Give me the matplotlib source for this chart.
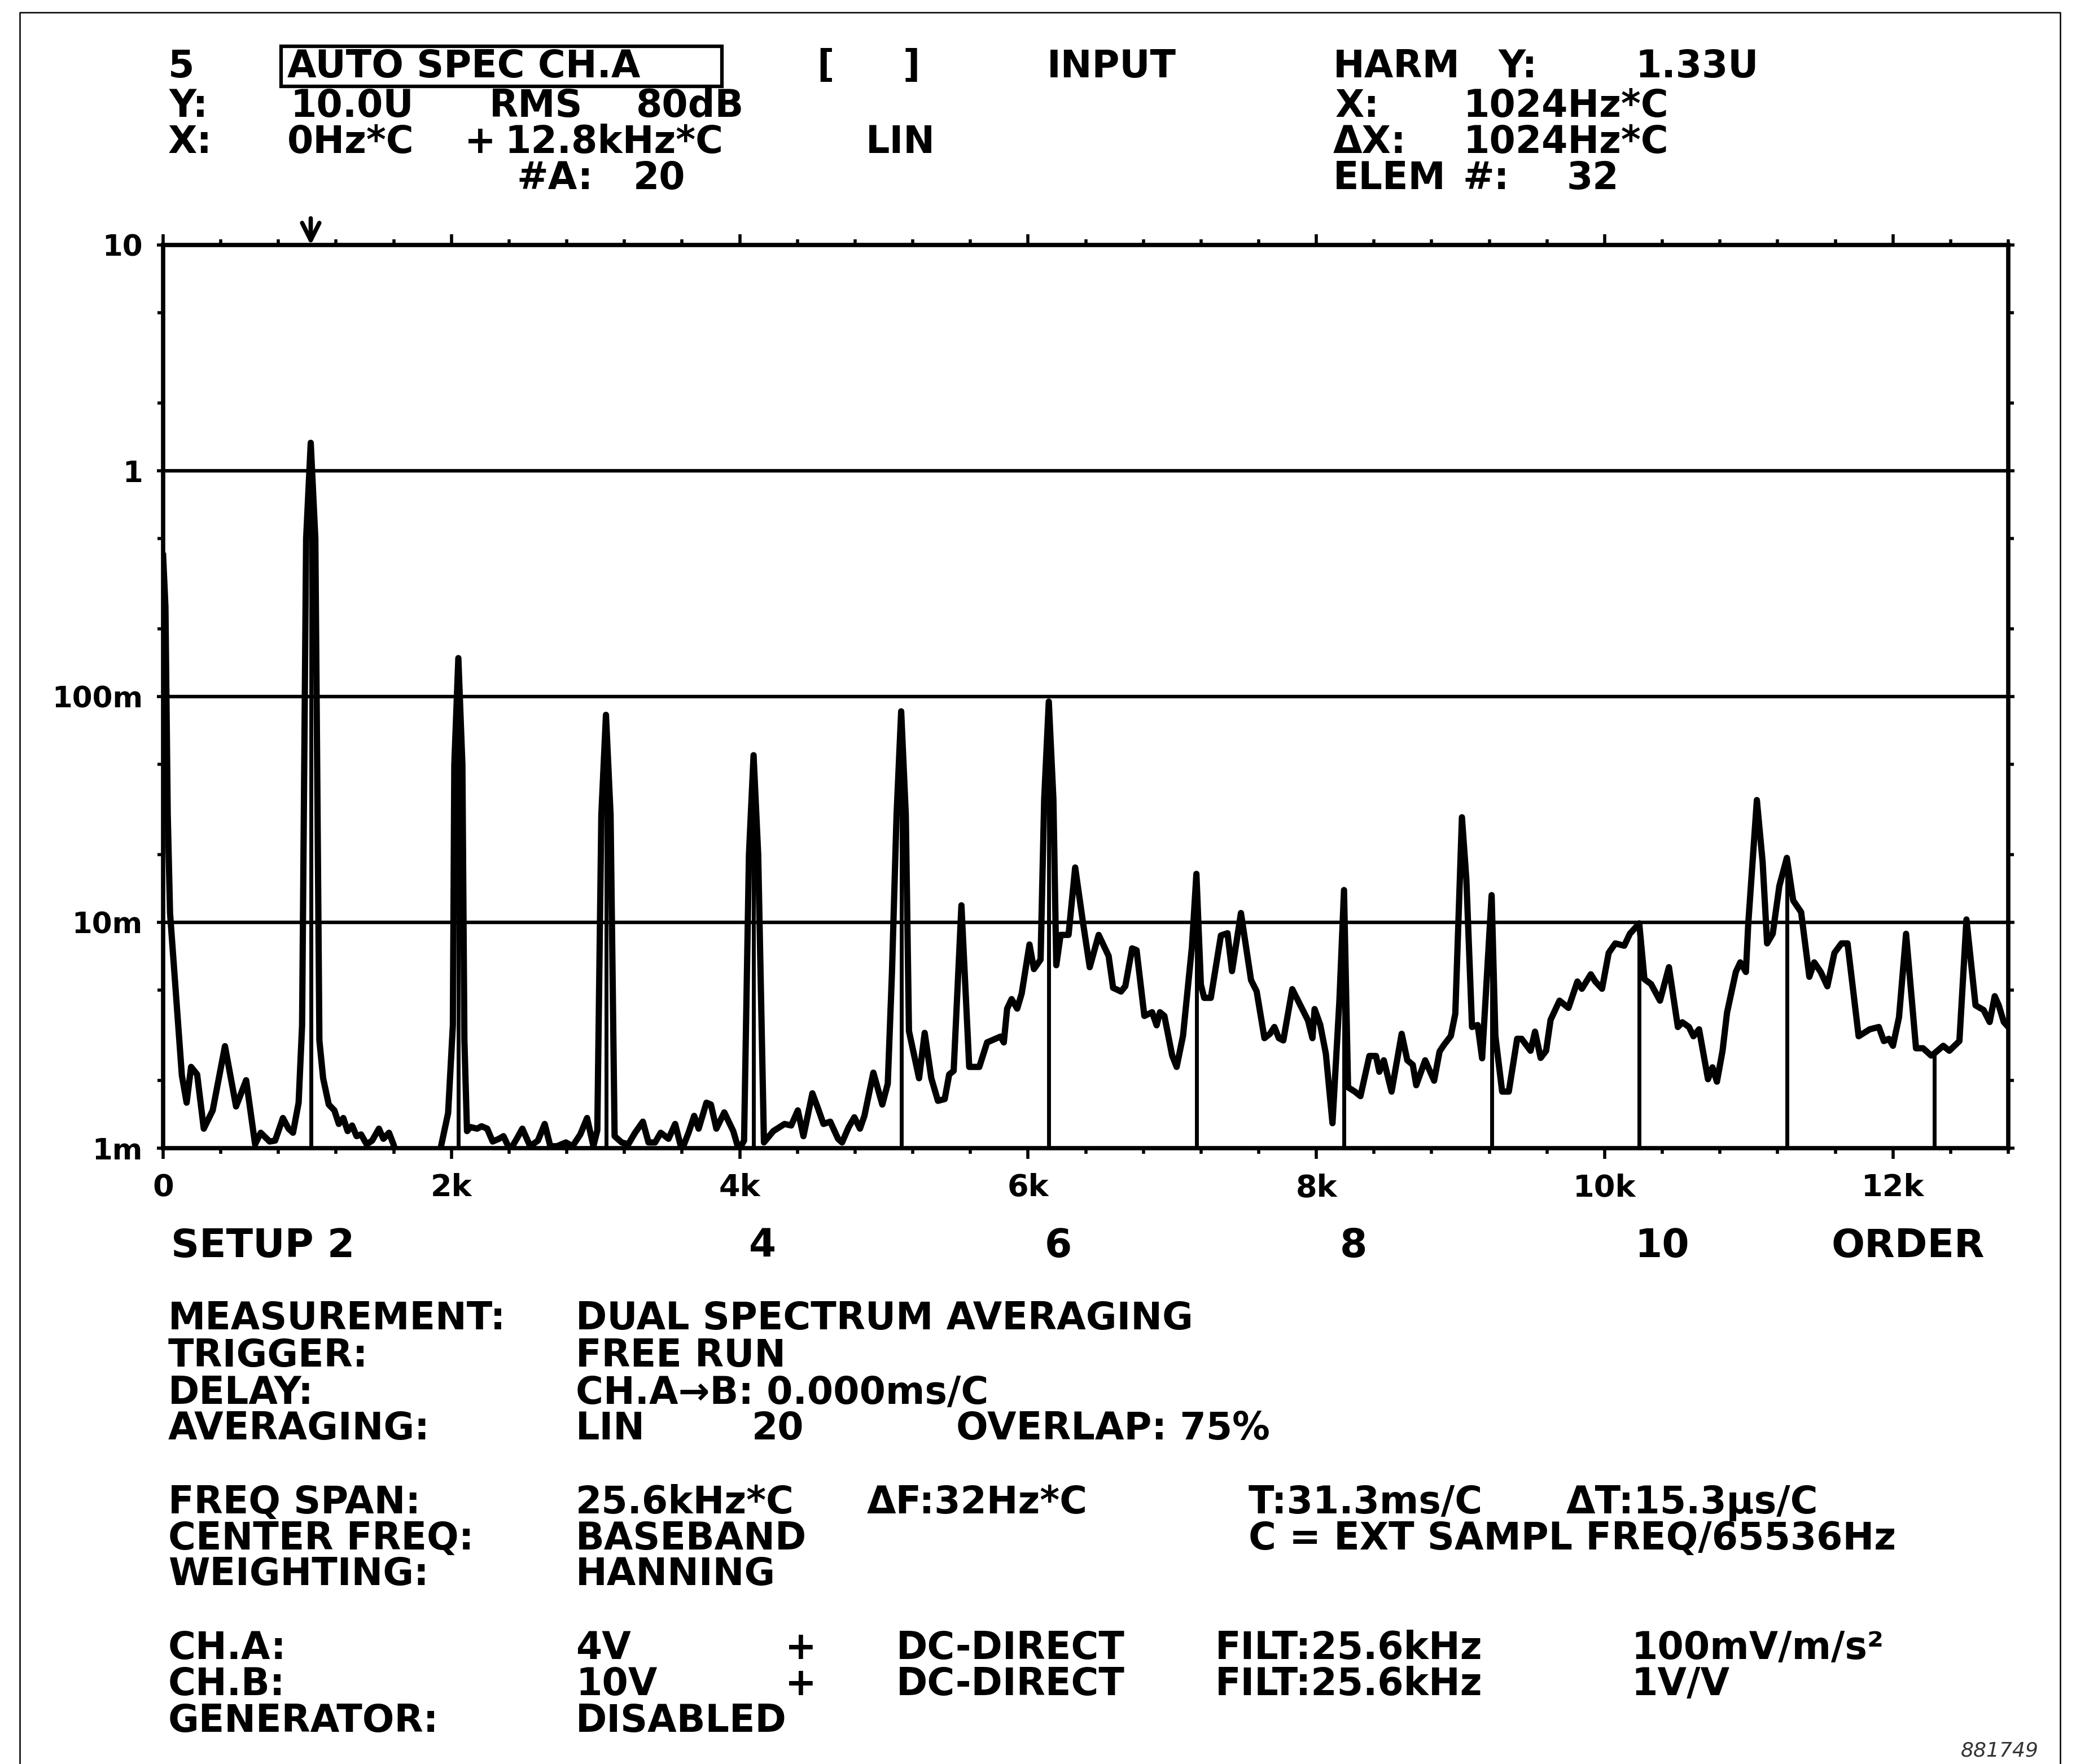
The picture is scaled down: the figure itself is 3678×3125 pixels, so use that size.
import matplotlib
matplotlib.use('Agg')
import matplotlib.pyplot as plt
import matplotlib.transforms as mtransforms
from matplotlib.ticker import FixedLocator, LogLocator, MultipleLocator, NullFormatter
from matplotlib.patches import Rectangle
from matplotlib.lines import Line2D

plt.rcParams['font.family'] = ['DejaVu Sans']
plt.rcParams['font.weight'] = 'bold'

W, H = 3678, 3125

# auto spectrum: frequency (Hz) / level (V rms)
freq_hz = [0, 16, 32, 48, 130, 163, 194, 236, 282, 344, 429, 506, 576, 638, 677, 739, 777, 831, 870, 901,
           940, 964, 992, 1024, 1056, 1084, 1110, 1149, 1188, 1219, 1250, 1280, 1311, 1342, 1373, 1412, 1450,
           1497, 1528, 1567, 1598, 1625, 1910, 1977, 2010, 2020, 2048, 2076, 2090, 2108, 2132, 2178, 2209,
           2248, 2286, 2330, 2361, 2407, 2453, 2492, 2546, 2600, 2647, 2686, 2732, 2794, 2840, 2894, 2941,
           2985, 3012, 3040, 3072, 3104, 3132, 3181, 3227, 3274, 3328, 3367, 3413, 3452, 3506, 3552, 3598,
           3645, 3684, 3715, 3769, 3800, 3838, 3893, 3955, 3994, 4030, 4064, 4096, 4128, 4168, 4233, 4311,
           4357, 4403, 4442, 4504, 4543, 4581, 4628, 4682, 4710, 4756, 4795, 4834, 4865, 4927, 4989, 5027,
           5056, 5088, 5120, 5152, 5174, 5244, 5283, 5329, 5375, 5422, 5453, 5484, 5538, 5592, 5662, 5716,
           5809, 5832, 5855, 5886, 5925, 5956, 6010, 6041, 6087, 6112, 6144, 6176, 6196, 6226, 6281, 6327,
           6381, 6428, 6490, 6559, 6590, 6645, 6675, 6722, 6753, 6807, 6861, 6892, 6915, 6946, 7000, 7031,
           7075, 7106, 7137, 7168, 7199, 7222, 7268, 7338, 7384, 7415, 7477, 7547, 7586, 7640, 7678, 7709,
           7740, 7771, 7833, 7880, 7942, 7973, 7988, 8027, 8066, 8112, 8160, 8192, 8220, 8267, 8306, 8368,
           8414, 8437, 8468, 8522, 8592, 8631, 8669, 8693, 8755, 8817, 8855, 8886, 8933, 8964, 9010, 9041,
           9080, 9119, 9150, 9216, 9242, 9289, 9335, 9393, 9424, 9486, 9517, 9556, 9594, 9625, 9687, 9749,
           9811, 9842, 9904, 9935, 9982, 10028, 10074, 10136, 10175, 10240, 10276, 10322, 10384, 10446,
           10508, 10539, 10585, 10616, 10655, 10717, 10748, 10779, 10818, 10849, 10910, 10941, 10980, 10996,
           11056, 11096, 11127, 11166, 11212, 11264, 11308, 11363, 11420, 11454, 11499, 11545, 11594, 11643,
           11685, 11762, 11839, 11902, 11937, 11972, 12000, 12042, 12091, 12160, 12209, 12265, 12288, 12349,
           12391, 12461, 12510, 12573, 12629, 12671, 12706, 12734, 12769, 12800]
level_v = [0.42, 0.25, 0.03, 0.011, 0.0021, 0.00159, 0.00229, 0.00212, 0.00122, 0.00147, 0.00283, 0.00153,
           0.0020, 0.00104, 0.00117, 0.00107, 0.00108, 0.00136, 0.00122, 0.00117,
           0.00159, 0.0035, 0.5, 1.33, 0.5, 0.003, 0.00204, 0.00156, 0.00147, 0.00128, 0.00136, 0.00119,
           0.00126, 0.00113, 0.00115, 0.00104, 0.00108,
           0.00122, 0.0011, 0.00117, 0.00104, 0.0009, 0.0009, 0.00143, 0.0035, 0.05, 0.148, 0.05, 0.003,
           0.00119, 0.00124, 0.00122, 0.00125,
           0.00122, 0.00107, 0.0011, 0.00113, 0.00098, 0.0011, 0.00122, 0.00102, 0.00108, 0.00128, 0.00102,
           0.00102, 0.00106, 0.00102, 0.00115, 0.00136,
           0.00102, 0.0012, 0.03, 0.083, 0.03, 0.00113, 0.00106, 0.00104, 0.00117, 0.00131, 0.00106, 0.00106,
           0.00117, 0.0011, 0.00128, 0.00098,
           0.00117, 0.00139, 0.00122, 0.00159, 0.00156, 0.00122, 0.00144, 0.00119, 0.00098, 0.00108, 0.02,
           0.055, 0.02, 0.00106, 0.00119, 0.00128,
           0.00126, 0.00147, 0.00113, 0.00175, 0.0015, 0.00128, 0.00131, 0.0011, 0.00106, 0.00124, 0.00137,
           0.00122, 0.00139, 0.00216, 0.00156, 0.00193,
           0.006, 0.03, 0.086, 0.03, 0.0033, 0.00204, 0.00324, 0.00204, 0.00162, 0.00165, 0.00212, 0.0022,
           0.0119, 0.00229, 0.00229, 0.00294,
           0.00312, 0.00294, 0.00415, 0.00457, 0.00415, 0.00484, 0.00798, 0.00621, 0.00684, 0.035, 0.095,
           0.035, 0.00646, 0.0088, 0.0088, 0.0175,
           0.01, 0.00633, 0.0088, 0.0071, 0.00513, 0.00494, 0.00522, 0.00767, 0.00753, 0.00385, 0.004, 0.0035,
           0.004, 0.00385, 0.00257, 0.00229,
           0.00314, 0.00495, 0.0078, 0.0164, 0.0053, 0.00463, 0.00463, 0.00875, 0.00895, 0.00608, 0.011,
           0.00555, 0.00495, 0.00307, 0.00321, 0.00344,
           0.00307, 0.003, 0.00506, 0.00441, 0.00368, 0.00307, 0.00413, 0.00352, 0.00262, 0.00129, 0.0045,
           0.0139, 0.00186, 0.00178, 0.0017, 0.00256,
           0.00256, 0.00218, 0.00245, 0.00178, 0.00321, 0.00245, 0.00234, 0.0019, 0.00245, 0.00199, 0.00268,
           0.00287, 0.00314, 0.00394, 0.0292, 0.0154,
           0.00344, 0.00351, 0.0025, 0.0132, 0.00314, 0.00178, 0.00178, 0.00305, 0.00305, 0.0027, 0.00328,
           0.00251, 0.0027, 0.0037, 0.0045, 0.00418,
           0.00547, 0.00508, 0.00589, 0.00547, 0.00508, 0.00732, 0.00807, 0.00788, 0.0089, 0.0099, 0.0056,
           0.00533, 0.0045, 0.00633,
           0.00344, 0.00361, 0.00344, 0.00313, 0.00336, 0.00202, 0.00228, 0.00197, 0.0027, 0.00398, 0.00603,
           0.00665, 0.00603, 0.0098,
           0.0348, 0.0185, 0.00807, 0.0089, 0.0145, 0.0193, 0.0125, 0.0111, 0.00574, 0.00665, 0.00603, 0.00521,
           0.00732, 0.00807,
           0.00807, 0.00313, 0.00336, 0.00344, 0.00298, 0.00305, 0.00284, 0.0038, 0.0089, 0.00277, 0.00277,
           0.00257, 0.00263, 0.00284,
           0.0027, 0.00298, 0.0103, 0.00429, 0.00409, 0.00362, 0.00471, 0.00429, 0.00362, 0.00344]

# harmonic cursor: order n sits at n * 1024 Hz
fund_hz = 1024
harm_order = [1, 2, 3, 4, 5, 6, 7, 8, 9, 10, 11, 12]
harm_level = [1.33, 0.148, 0.083, 0.055, 0.086, 0.095, 0.0164, 0.0139, 0.0132, 0.0099, 0.0193, 0.00263]

x_ticks = [0, 2000, 4000, 6000, 8000, 10000, 12000]
x_labels = ['0', '2k', '4k', '6k', '8k', '10k', '12k']
y_ticks = [1e-3, 1e-2, 1e-1, 1, 10]
y_labels = ['1m', '10m', '100m', '1', '10']
grid_levels = [1e-2, 1e-1, 1]
order_marks = [4, 6, 8, 10]

fig = plt.figure(figsize=(W / 100, H / 100), dpi=100)
ax = fig.add_axes([289 / W, 1 - 2034 / H, (3558 - 289) / W, (2034 - 434) / H])
ax.set_yscale('log')
ax.set_xlim(0, 12800)
ax.set_ylim(1e-3, 10)

for lev in grid_levels:
    ax.axhline(lev, color='k', lw=4.5, zorder=1)

ax.plot(freq_hz, level_v, color='k', lw=8, zorder=3)
ax.vlines([n * fund_hz for n in harm_order], 1e-3, harm_level, colors='k', lw=5, zorder=3)

# cursor arrow on fundamental
ax.annotate('', xy=(fund_hz, 10), xytext=(0, 34), textcoords='offset points',
            arrowprops=dict(arrowstyle='->', lw=5.5, color='k', mutation_scale=55, shrinkA=0, shrinkB=0),
            annotation_clip=False)

for sp in ax.spines.values():
    sp.set_linewidth(5.5)

ax.xaxis.set_major_locator(FixedLocator(x_ticks))
ax.set_xticklabels(x_labels)
ax.xaxis.set_minor_locator(MultipleLocator(400))
ax.yaxis.set_major_locator(FixedLocator(y_ticks))
ax.set_yticklabels(y_labels)
ax.yaxis.set_minor_locator(LogLocator(base=10, subs=(2.0, 5.0)))
ax.yaxis.set_minor_formatter(NullFormatter())

ax.tick_params(axis='both', which='both', direction='out', top=True, right=True, color='k')
ax.tick_params(axis='x', which='major', length=14, width=4, pad=18, labelsize=39)
ax.tick_params(axis='x', which='minor', length=7, width=4)
ax.tick_params(axis='y', which='major', length=8, width=4, pad=18, labelsize=37)
ax.tick_params(axis='y', which='minor', length=7, width=4)


def put(x, y, s, size=48, **kw):
    # x, y in pixels of the page, y from the top
    fig.text(x / W, 1 - y / H, s, fontsize=size, ha='left', va='center', **kw)


# header
put(298, 118, '5')
put(509, 118, 'AUTO SPEC CH.A')
fig.add_artist(Rectangle((498 / W, 1 - 153 / H), (1279 - 498) / W, (153 - 82) / H,
                         transform=fig.transFigure, fill=False, lw=4.5, ec='k'))
put(1447, 118, '[')
put(1599, 118, ']')
put(1855, 118, 'INPUT')
put(2362, 118, 'HARM')
put(2655, 118, 'Y:')
put(2897, 118, '1.33U')

put(300, 188, 'Y:')
put(514, 188, '10.0U')
put(867, 188, 'RMS')
put(1127, 188, '80dB')
put(2366, 188, 'X:')
put(2592, 188, '1024Hz*C')

put(298, 252, 'X:')
put(509, 252, '0Hz*C')
put(823, 252, '+')
put(894, 252, '12.8kHz*C')
put(1534, 252, 'LIN')
put(2362, 252, 'ΔX:')
put(2592, 252, '1024Hz*C')

put(916, 316, '#A:')
put(1122, 316, '20')
put(2362, 316, 'ELEM')
put(2592, 316, '#:')
put(2776, 316, '32')

# order scale under the frequency axis
put(303, 2207, 'SETUP 2', size=50)
blend = mtransforms.blended_transform_factory(ax.transData, fig.transFigure)
for n in order_marks:
    fig.text(n * fund_hz - 30, 1 - 2207 / H, str(n), transform=blend, fontsize=50,
             ha='left', va='center')
put(3245, 2207, 'ORDER', size=50)

# setup listing
rows = [
    (2336, [(298, 'MEASUREMENT:'), (1020, 'DUAL SPECTRUM AVERAGING')]),
    (2402, [(298, 'TRIGGER:'), (1020, 'FREE RUN')]),
    (2468, [(298, 'DELAY:'), (1020, 'CH.A→B: 0.000ms/C')]),
    (2531, [(298, 'AVERAGING:'), (1020, 'LIN'), (1332, '20'), (1694, 'OVERLAP: 75%')]),
    (2662, [(298, 'FREQ SPAN:'), (1020, '25.6kHz*C'), (1536, 'ΔF:32Hz*C'), (2212, 'T:31.3ms/C'),
            (2775, 'ΔT:15.3μs/C')]),
    (2726, [(298, 'CENTER FREQ:'), (1020, 'BASEBAND'), (2212, 'C = EXT SAMPL FREQ/65536Hz')]),
    (2789, [(298, 'WEIGHTING:'), (1020, 'HANNING')]),
    (2920, [(298, 'CH.A:'), (1020, '4V'), (1391, '+'), (1588, 'DC-DIRECT'), (2153, 'FILT:25.6kHz'),
            (2890, '100mV/m/s²')]),
    (2984, [(298, 'CH.B:'), (1020, '10V'), (1391, '+'), (1588, 'DC-DIRECT'), (2153, 'FILT:25.6kHz'),
            (2890, '1V/V')]),
    (3049, [(298, 'GENERATOR:'), (1020, 'DISABLED')]),
]
for y, items in rows:
    for x, s in items:
        put(x, y, s)

# page frame
fig.add_artist(Line2D([35 / W, 35 / W, 3650 / W, 3650 / W], [0, 1 - 22 / H, 1 - 22 / H, 0],
                      transform=fig.transFigure, color='k', lw=1.8))
fig.text(3612 / W, 1 - 3101 / H, '881749', fontsize=26, fontweight='normal', style='italic',
         ha='right', va='center', color='#333333')

fig.savefig('out.png', dpi=100)
